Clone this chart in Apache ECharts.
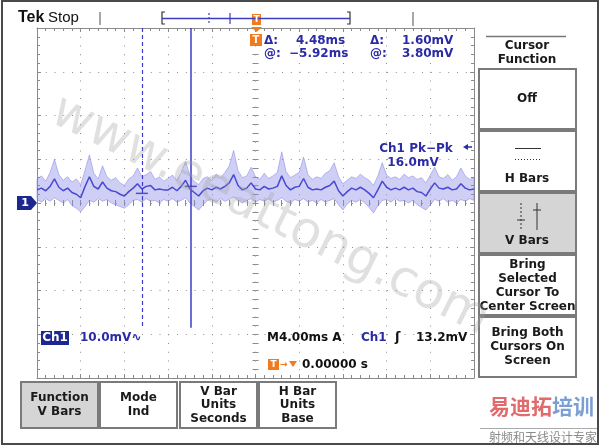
<!DOCTYPE html>
<html>
<head>
<meta charset="utf-8">
<script src="https://cdn.jsdelivr.net/npm/echarts@6/dist/echarts.min.js"></script>
<style>
html, body { margin: 0; padding: 0; background: #fff; }
#chart { width: 600px; height: 446px; }
</style>
</head>
<body>
<div id="chart"></div>
<script>
// sample times (ms), trigger at 0, 4 ms/div
const timeMs = [
  -20.0, -19.6, -19.2, -18.8, -18.4, -18.0, -17.6, -17.2, -16.8, -16.4,
  -16.0, -15.6, -15.2, -14.8, -14.4, -14.0, -13.6, -13.2, -12.8, -12.4,
  -12.0, -11.6, -11.2, -10.8, -10.4, -10.0, -9.6, -9.2, -8.8, -8.4,
  -8.0, -7.6, -7.2, -6.8, -6.4, -6.0, -5.6, -5.2, -4.8, -4.4,
  -4.0, -3.6, -3.2, -2.8, -2.4, -2.0, -1.6, -1.2, -0.8, -0.4,
  0.0, 0.4, 0.8, 1.2, 1.6, 2.0, 2.4, 2.8, 3.2, 3.6,
  4.0, 4.4, 4.8, 5.2, 5.6, 6.0, 6.4, 6.8, 7.2, 7.6,
  8.0, 8.4, 8.8, 9.2, 9.6, 10.0, 10.4, 10.8, 11.2, 11.6,
  12.0, 12.4, 12.8, 13.2, 13.6, 14.0, 14.4, 14.8, 15.2, 15.6,
  16.0, 16.4, 16.8, 17.2, 17.6, 18.0, 18.4, 18.8, 19.2, 19.6,
  20.0
]
// Ch1 envelope, mV (10 mV/div)
const upperMv = [
  5.5, 6.2, 5.0, 7.0, 10.0, 6.5, 5.2, 6.0, 4.8, 5.5,
  4.2, 7.5, 11.0, 6.8, 5.5, 8.5, 6.0, 5.2, 5.8, 4.6,
  4.0, 5.5, 6.2, 8.0, 6.0, 6.5, 7.2, 5.4, 6.0, 5.0,
  5.6, 6.4, 5.2, 7.0, 9.5, 6.2, 5.0, 4.2, 5.6, 6.0,
  5.2, 6.6, 5.8, 7.0, 8.5, 12.0, 7.4, 5.8, 6.2, 8.2,
  6.0, 5.4, 6.8, 5.6, 6.2, 7.0, 11.7, 7.2, 5.8, 6.4,
  7.0, 10.5, 6.5, 5.4, 6.0, 5.6, 6.8, 7.4, 9.2, 6.0,
  4.4, 5.2, 6.0, 5.6, 6.6, 5.8, 5.2, 4.0, 6.2, 9.2,
  6.4, 5.6, 6.0, 5.4, 6.6, 5.8, 6.2, 5.4, 5.8, 4.6,
  6.4, 8.2, 6.0, 5.6, 6.5, 5.2, 6.0, 8.0, 6.2, 5.4,
  5.8
]
const lowerMv = [
  0.8, 0.2, 1.0, 0.4, 1.2, 0.6, 0.0, 0.8, -0.6, -1.2,
  -2.0, -0.8, 0.6, 0.2, 1.0, 0.4, 0.8, 0.0, -0.4, -0.8,
  -1.2, -0.4, 0.6, 0.8, 0.2, 1.0, 0.4, 0.6, 0.0, 0.8,
  0.4, 1.0, 0.2, 0.6, 1.2, 0.0, -0.8, -1.6, -0.4, 0.6,
  0.8, 0.2, 1.0, 0.4, 0.8, 1.4, 0.6, 0.0, 0.6, 1.0,
  0.2, 0.8, 0.4, 1.0, 0.2, 0.6, 1.2, 0.4, 0.0, 0.8,
  0.4, 1.0, 0.2, 0.6, 0.0, 0.8, 0.2, 0.6, 1.0, -0.4,
  -1.6, -0.2, 0.6, 0.2, 0.8, 0.0, -1.0, -2.3, -0.6, 0.6,
  0.8, 0.2, 1.0, 0.4, 0.6, 0.0, 0.6, -0.4, -1.0, -1.6,
  -0.4, 0.8, 0.4, 1.0, 0.2, 0.6, 0.0, 0.8, 0.4, 1.0,
  0.6
]
const coreMv = [
  3.0, 3.4, 2.8, 3.8, 5.5, 3.6, 2.8, 3.4, 2.4, 2.0,
  1.2, 3.8, 6.0, 3.8, 3.2, 4.8, 3.4, 2.8, 2.6, 2.0,
  1.6, 2.6, 3.4, 4.4, 3.2, 3.8, 4.0, 3.0, 3.2, 3.0,
  3.0, 3.6, 2.8, 3.8, 5.2, 3.2, 2.4, 1.6, 2.8, 3.4,
  3.0, 3.6, 3.2, 3.8, 4.6, 6.5, 4.0, 3.0, 3.4, 4.6,
  3.2, 3.0, 3.8, 3.2, 3.4, 3.8, 6.2, 4.0, 3.0, 3.6,
  3.8, 5.6, 3.6, 3.0, 3.2, 3.0, 3.6, 4.0, 5.0, 2.8,
  1.6, 2.6, 3.4, 3.0, 3.6, 3.0, 2.2, 1.2, 3.0, 5.0,
  3.6, 3.0, 3.4, 3.0, 3.6, 3.0, 3.4, 2.6, 2.4, 1.6,
  3.2, 4.6, 3.4, 3.2, 3.6, 3.0, 3.2, 4.4, 3.4, 3.0,
  3.2
]
// V bar cursors: dashed one, solid (selected) one
const cursorMs = [-10.40, -5.92]
const cursorMv = [2.20, 3.80]

const readoutTop = ['\u0394:', '4.48ms', '\u0394:', '1.60mV']
const readoutBottom = ['@:', '\u22125.92ms', '@:', '3.80mV']
const menuItems = [
  ['Off'],
  ['H Bars'],
  ['V Bars'],
  ['Bring', 'Selected', 'Cursor To', 'Center Screen'],
  ['Bring Both', 'Cursors On', 'Screen']
]
const bottomMenu = [
  ['Function', 'V Bars'],
  ['Mode', 'Ind'],
  ['V Bar', 'Units', 'Seconds'],
  ['H Bar', 'Units', 'Base']
]

const gridColor = '#8a8a8a'
const blue = '#2b2ba6'
const traceBlue = '#4848d4'
const orange = '#f07a1e'
const navy = '#1d2790'
const readFont = 'bold 12px "DejaVu Sans"'
const menuFont = 'bold 12px "DejaVu Sans"'

const chart = echarts.init(document.getElementById('chart'))

const pair = arr => timeMs.map((t, i) => [t, arr[i]])

// graticule axes: border ones plus two pushed to the centre cross
const scopeAxis = (dim, position, offset) => {
  const isX = dim === 'x'
  return {
    type: 'value',
    min: isX ? -20 : -40,
    max: isX ? 20 : 40,
    interval: isX ? 4 : 10,
    position: position,
    offset: offset,
    axisLine: { show: offset === 0, onZero: false, lineStyle: { color: gridColor, width: 1 } },
    axisTick: { show: true, inside: true, length: offset === 0 ? 4 : 3, lineStyle: { color: gridColor } },
    minorTick: { show: true, splitNumber: 5, length: 3, lineStyle: { color: gridColor } },
    axisLabel: { show: false },
    splitLine: {
      show: offset === 0 && (position === 'bottom' || position === 'left'),
      lineStyle: { color: '#8c8c8c', width: 1, type: [1, 7.75] }
    }
  }
}

const txt = (x, y, text, font, fill, align, extra) => Object.assign({
  type: 'text', x: x, y: y, z: 10,
  style: { text: text, font: font, fill: fill || '#111', align: align || 'left', verticalAlign: 'middle',
    textAlign: align || 'left', textVerticalAlign: 'middle' }
}, extra || {})
const rect = (x, y, w, h, fill, stroke, lw) => ({
  type: 'rect', z: 5, shape: { x: x, y: y, width: w, height: h },
  style: { fill: fill || 'none', stroke: stroke || 'none', lineWidth: lw || 1 }
})
const line = (x1, y1, x2, y2, stroke, lw, dash) => ({
  type: 'line', z: 6, shape: { x1: x1, y1: y1, x2: x2, y2: y2 },
  style: { stroke: stroke, lineWidth: lw || 1, lineDash: dash || null }
})

const graphics = []

// outer frame
graphics.push(rect(2, 1, 596, 443, 'none', '#4a4a4a', 2))

// status line
graphics.push(txt(18, 18, 'Tek', 'bold 16px "Liberation Sans"', '#111'))
graphics.push(txt(48, 18, 'Stop', '15px "Liberation Sans"', '#111'))
graphics.push(line(100, 12, 100, 25, '#8a8a8a', 1.5))
graphics.push(line(413, 12, 413, 26, '#8a8a8a', 1.5))
graphics.push({ type: 'polyline', z: 6, shape: { points: [[165, 12], [162, 12], [162, 24], [165, 24]] }, style: { stroke: '#333', lineWidth: 1.2, fill: 'none' } })
graphics.push({ type: 'polyline', z: 6, shape: { points: [[347, 12], [350, 12], [350, 24], [347, 24]] }, style: { stroke: '#333', lineWidth: 1.2, fill: 'none' } })
graphics.push(line(162, 18.5, 350, 18.5, '#3c3cc0', 1.5))
graphics.push(line(209, 13, 209, 24, '#3c3cc0', 1.2, [2, 2]))
graphics.push(line(230, 13, 230, 24, '#3c3cc0', 1.2))
graphics.push(rect(252, 14, 9, 11, orange))
graphics.push(txt(256.5, 19.5, 'T', 'bold 9px "DejaVu Sans"', '#fff', 'center'))
graphics.push({ type: 'polygon', z: 6, shape: { points: [[251, 27], [262, 27], [256.5, 32]] }, style: { fill: orange } })

// cursor readout
graphics.push(rect(250, 34, 12, 12, orange))
graphics.push(txt(256, 40.5, 'T', 'bold 10px "DejaVu Sans"', '#fff', 'center'))
const readX = [264, 296, 370, 402]
readoutTop.forEach((s, i) => graphics.push(txt(readX[i], 41, s, readFont, blue)))
readoutBottom.forEach((s, i) => graphics.push(txt(i === 1 ? 289 : readX[i], 54, s, readFont, blue)))

// measurement
graphics.push(txt(416, 149, 'Ch1 Pk\u2212Pk', readFont, blue, 'center'))
graphics.push(txt(413, 163, '16.0mV', readFont, blue, 'center'))
graphics.push({ type: 'polygon', z: 6, shape: { points: [[463, 147], [468, 144], [468, 150]] }, style: { fill: blue } })
graphics.push(line(467, 147, 472, 147, blue, 1.5))

// channel 1 ground marker
graphics.push({ type: 'polygon', z: 6, shape: { points: [[17, 196], [31, 196], [37, 203], [31, 210], [17, 210]] }, style: { fill: navy } })
graphics.push(txt(25, 203, '1', 'bold 11px "DejaVu Sans"', '#fff', 'center'))

// scale / timebase / trigger readouts
graphics.push(rect(41, 331, 28, 14, navy))
graphics.push(txt(55, 338, 'Ch1', readFont, '#fff', 'center'))
graphics.push(txt(80, 338, '10.0mV\u223f', readFont, blue))
graphics.push(txt(267, 338, 'M4.00ms A', readFont, '#111'))
graphics.push(txt(361, 338, 'Ch1', readFont, blue))
graphics.push(txt(395, 338, '\u0283', 'bold 13px "DejaVu Sans"', '#111'))
graphics.push(txt(416, 338, '13.2mV', readFont, '#111'))
graphics.push(rect(268, 359, 11, 11, orange))
graphics.push(txt(273.5, 364.5, 'T', 'bold 9px "DejaVu Sans"', '#fff', 'center'))
graphics.push(txt(280, 364.5, '\u2192', 'bold 9px "DejaVu Sans"', orange))
graphics.push({ type: 'polygon', z: 6, shape: { points: [[289, 361], [297, 361], [293, 367]] }, style: { fill: orange } })
graphics.push(txt(302, 365, '0.00000 s', readFont, '#111'))

// right side menu
graphics.push(line(486, 36.5, 566, 36.5, '#777', 1.5))
graphics.push(txt(527, 46, 'Cursor', menuFont, '#1a1a1a', 'center'))
graphics.push(txt(527, 60, 'Function', menuFont, '#1a1a1a', 'center'))
const menuBoxes = [[69, 60], [131, 60], [193, 60], [255, 60], [317, 60]]
menuBoxes.forEach((b, i) => {
  graphics.push(rect(479, b[0], 97, b[1], i === 2 ? '#d5d5d5' : '#fff', '#7a7a7a', 2))
})
graphics.push(txt(527, 99, menuItems[0][0], menuFont, '#1a1a1a', 'center'))
graphics.push(line(515, 148.5, 541, 148.5, '#333', 1))
graphics.push(line(515, 159.5, 541, 159.5, '#333', 1, [1, 2]))
graphics.push(txt(527, 179, menuItems[1][0], menuFont, '#1a1a1a', 'center'))
graphics.push(line(521, 203, 521, 230, '#333', 1, [2, 2]))
graphics.push(line(517, 220, 525, 220, '#333', 1))
graphics.push(line(537, 203, 537, 230, '#333', 1))
graphics.push(line(533, 210, 541, 210, '#333', 1))
graphics.push(txt(527, 241, menuItems[2][0], menuFont, '#1a1a1a', 'center'))
menuItems[3].forEach((s, i) => graphics.push(txt(527.5, 265 + i * 14, s, menuFont, '#1a1a1a', 'center')))
menuItems[4].forEach((s, i) => graphics.push(txt(527.5, 333 + i * 14, s, menuFont, '#1a1a1a', 'center')))

// bottom menu
const bottomX = [21, 100, 180, 259]
bottomMenu.forEach((lines, i) => {
  graphics.push(rect(bottomX[i], 382, 77, 46, i === 0 ? '#d5d5d5' : '#fff', '#7a7a7a', 2))
  const y0 = lines.length === 2 ? 398 : 391.5
  lines.forEach((s, j) => graphics.push(txt(bottomX[i] + 38.5, y0 + j * 13.5, s, menuFont, '#1a1a1a', 'center')))
})

// watermark + logo
graphics.push({
  type: 'text', x: 270, y: 216, rotation: -0.46, z: 20,
  style: { text: 'www.eeattong.com', font: '50px "DejaVu Sans"', fill: 'rgba(160,160,160,0.33)',
    align: 'center', verticalAlign: 'middle', textAlign: 'center', textVerticalAlign: 'middle' }
})
graphics.push(txt(489, 406, '\u6613\u8fea\u62d3', 'bold 21px "Noto Sans CJK SC"', '#e06a6c'))
graphics.push(txt(552, 406, '\u57f9\u8bad', 'bold 21px "Noto Sans CJK SC"', '#7c9fd3'))
graphics.push(line(480, 428.5, 597, 428.5, '#aaa', 1))
graphics.push(txt(543, 437, '\u5c04\u9891\u548c\u5929\u7ebf\u8bbe\u8ba1\u4e13\u5bb6', '12px "Noto Sans CJK SC"', '#8a8a8a', 'center'))

const option = {
  animation: false,
  backgroundColor: '#fff',
  grid: { left: 37, top: 28, width: 437, height: 350 },
  xAxis: [
    scopeAxis('x', 'bottom', 0),
    scopeAxis('x', 'top', 0),
    scopeAxis('x', 'bottom', -175),
    scopeAxis('x', 'top', -175)
  ],
  yAxis: [
    scopeAxis('y', 'left', 0),
    scopeAxis('y', 'right', 0),
    scopeAxis('y', 'left', -218.5),
    scopeAxis('y', 'right', -218.5)
  ],
  series: [
    {
      // filled envelope between lowerMv and upperMv
      name: 'envelope',
      type: 'custom',
      data: [[0, 0]],
      renderItem: (params, api) => {
        const pts = timeMs.map((t, i) => api.coord([t, upperMv[i]]))
        for (let i = timeMs.length - 1; i >= 0; i--) pts.push(api.coord([timeMs[i], lowerMv[i]]))
        return {
          type: 'polygon',
          shape: { points: pts },
          style: { fill: 'rgba(140,140,232,0.42)', stroke: 'rgba(120,120,225,0.6)', lineWidth: 0.8 }
        }
      },
      silent: true,
      z: 3
    },
    {
      name: 'core',
      type: 'line',
      data: pair(coreMv),
      symbol: 'none',
      lineStyle: { color: traceBlue, width: 1.5 },
      z: 4,
      markLine: {
        silent: true,
        symbol: 'none',
        label: { show: false },
        data: [
          [{ coord: [cursorMs[0], 40], lineStyle: { type: [4, 3], width: 1.2, color: '#3c3cc8' } }, { coord: [cursorMs[0], -28.5] }],
          [{ coord: [cursorMs[1], 40], lineStyle: { type: 'solid', width: 1.5, color: '#3c3cc8' } }, { coord: [cursorMs[1], -28.5] }]
        ]
      }
    },
    {
      name: 'cursor marks',
      type: 'scatter',
      data: cursorMs.map((t, i) => [t, cursorMv[i]]),
      symbol: 'rect',
      symbolSize: [12, 1.5],
      itemStyle: { color: '#3030b0' },
      z: 5
    }
  ],
  graphic: { elements: graphics }
}

chart.setOption(option)
</script>
</body>
</html>
